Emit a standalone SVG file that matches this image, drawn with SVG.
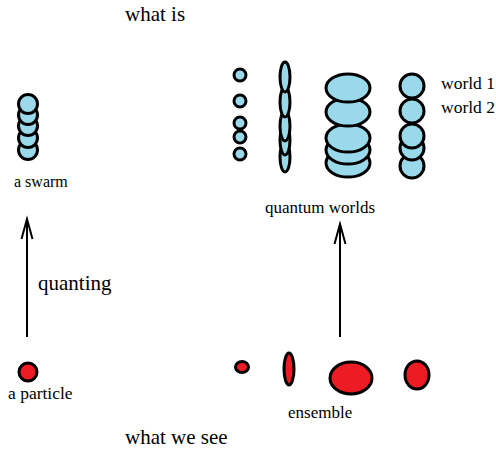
<svg xmlns="http://www.w3.org/2000/svg" width="496" height="450" viewBox="0 0 496 450">
<style>
.b{fill:#99d9ea;stroke:#000;stroke-width:3}
.r{fill:#ed1c24;stroke:#000;stroke-width:3}
text{font-family:"Liberation Serif","Times New Roman",serif;fill:#000}
.ln{stroke:#000;stroke-width:2;fill:none}
</style>
<rect width="496" height="450" fill="#fff"/>
<text x="125" y="21" font-size="21">what is</text>
<text x="125" y="444" font-size="21">what we see</text>
<g id="swarm">
<circle class="b" cx="28" cy="150" r="9.5"/>
<circle class="b" cx="28" cy="138" r="9.5"/>
<circle class="b" cx="28" cy="126" r="9.5"/>
<circle class="b" cx="28" cy="115" r="9.5"/>
<circle class="b" cx="28" cy="104" r="9.5"/>
<text x="14" y="187" font-size="16">a swarm</text>
</g>
<g id="particle">
<circle class="r" cx="28" cy="372" r="9"/>
<text x="8" y="399" font-size="17.5">a particle</text>
</g>
<g id="qw1">
<circle class="b" cx="240" cy="154" r="6"/>
<circle class="b" cx="240" cy="137" r="6"/>
<circle class="b" cx="240" cy="123" r="6"/>
<circle class="b" cx="240" cy="101" r="6"/>
<circle class="b" cx="240" cy="75" r="6"/>
</g>
<g id="qw2">
<ellipse class="b" cx="285" cy="157" rx="5" ry="15"/>
<ellipse class="b" cx="285" cy="140" rx="5" ry="15"/>
<ellipse class="b" cx="285" cy="126" rx="5" ry="15"/>
<ellipse class="b" cx="285" cy="102" rx="5" ry="15"/>
<ellipse class="b" cx="285" cy="77" rx="5" ry="15"/>
</g>
<g id="qw3">
<ellipse class="b" cx="348" cy="163" rx="22" ry="14"/>
<ellipse class="b" cx="348" cy="150" rx="22" ry="14"/>
<ellipse class="b" cx="348" cy="138" rx="22" ry="14"/>
<ellipse class="b" cx="348" cy="112" rx="22" ry="14"/>
<ellipse class="b" cx="348" cy="88" rx="22" ry="14"/>
</g>
<g id="qw4">
<ellipse class="b" cx="412" cy="166" rx="12" ry="12"/>
<ellipse class="b" cx="412" cy="148" rx="12" ry="12"/>
<ellipse class="b" cx="412" cy="136" rx="12" ry="12"/>
<ellipse class="b" cx="412" cy="111" rx="12" ry="12"/>
<ellipse class="b" cx="412" cy="86" rx="12" ry="12"/>
</g>
<g id="labels-worlds">
<text x="441" y="89" font-size="17.5">world 1</text>
<text x="441" y="113" font-size="17.5">world 2</text>
<text x="265" y="213" font-size="17">quantum worlds</text>
</g>
<g id="ensemble">
<ellipse class="r" cx="242" cy="367" rx="6.5" ry="5.5"/>
<ellipse class="r" cx="289" cy="369" rx="5" ry="16"/>
<ellipse class="r" cx="351" cy="378" rx="21" ry="16"/>
<ellipse class="r" cx="417" cy="375" rx="12" ry="14"/>
<text x="288" y="418" font-size="17">ensemble</text>
</g>
<g id="connectors">
<path class="ln" d="M27 337V219M21.5 239L27 219L32.5 239"/>
<path class="ln" d="M340 337V224M334.5 244L340 224L345.5 244"/>
</g>
<text x="38" y="290" font-size="21">quanting</text>
</svg>
